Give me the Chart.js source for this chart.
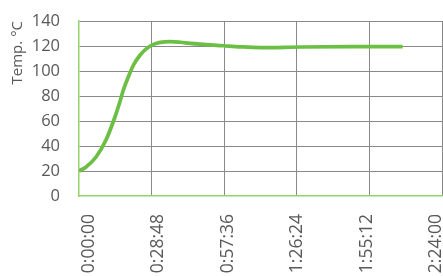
<!DOCTYPE html>
<html>
<head>
<meta charset="utf-8">
<script src="https://cdn.jsdelivr.net/npm/chart.js@4"></script>
<style>
  html, body { margin: 0; padding: 0; background: #fff; }
  #wrap { width: 443px; height: 276px; }
</style>
</head>
<body>
<div id="wrap"><canvas id="chart" width="443" height="276"></canvas></div>
<script>
// elapsed time in seconds and temperature readings
const times = [0, 167, 406, 645, 843, 979, 1058, 1177, 1297, 1456, 1615, 1774, 1933, 2172, 2411, 2650, 3445, 3843, 4321, 5275, 6469, 7703];
const temps = [20, 23.2, 31.2, 45, 62, 76, 85, 95.5, 104.8, 112.8, 118.1, 121.3, 122.9, 123.5, 123, 122.1, 120.2, 119.3, 118.7, 119.2, 119.5, 119.5];

const xTickValues = [0, 1728, 3456, 5184, 6912, 8640];
const xTickLabels = ["0:00:00", "0:28:48", "0:57:36", "1:26:24", "1:55:12", "2:24:00"];
const yTickValues = [0, 20, 40, 60, 80, 100, 120, 140];

const textColor = "#595959";
const gridColor = "#898989";
const axisColor = "#92d36e";
const lineColor = "#6cbf45";

const points = times.map((t, i) => ({ x: t, y: temps[i] }));

new Chart(document.getElementById("chart"), {
  type: "line",
  data: {
    datasets: [
      {
        label: "Temp",
        data: points,
        xAxisID: "x",
        borderColor: lineColor,
        borderWidth: 3.75,
        pointRadius: 0,
        cubicInterpolationMode: "monotone",
        fill: false,
      },
    ],
  },
  options: {
    responsive: false,
    animation: false,
    events: [],
    layout: { padding: { top: 21, right: 1, left: 0, bottom: 0 } },
    plugins: { legend: { display: false }, tooltip: { enabled: false } },
    scales: {
      x: {
        type: "linear",
        min: 0,
        max: 8640,
        afterBuildTicks: (s) => { s.ticks = xTickValues.map((v) => ({ value: v })); },
        afterFit: (s) => { s.height = 0; s.paddingLeft = 0; s.paddingRight = 0; },
        ticks: { display: false },
        grid: {
          drawTicks: false,
          color: (c) => (c.tick && c.tick.value === 0 ? "rgba(0,0,0,0)" : gridColor),
          lineWidth: 1,
        },
        border: { display: true, color: axisColor, width: 1.5 },
      },
      // label axis: Excel places the rotated labels slightly off the gridlines
      xl: {
        type: "linear",
        position: "bottom",
        min: -250,
        max: 8790,
        afterBuildTicks: (s) => { s.ticks = xTickValues.map((v) => ({ value: v })); },
        afterFit: (s) => { s.height = 80; s.paddingLeft = 0; s.paddingRight = 0; },
        grid: { display: false, drawTicks: false },
        border: { display: false },
        ticks: {
          autoSkip: false,
          minRotation: 90,
          maxRotation: 90,
          padding: 18,
          color: textColor,
          font: { family: "'Open Sans'", size: 17.5 },
          callback: (v, i) => xTickLabels[i],
        },
      },
      y: {
        min: 0,
        max: 140,
        afterBuildTicks: (s) => { s.ticks = yTickValues.map((v) => ({ value: v })); },
        afterFit: (s) => { s.width = 79; s.paddingTop = 0; s.paddingBottom = 0; },
        grid: {
          drawTicks: false,
          color: (c) => (c.tick && c.tick.value === 0 ? "rgba(0,0,0,0)" : gridColor),
          lineWidth: 1,
        },
        border: { display: true, color: axisColor, width: 1.5 },
        ticks: {
          padding: 19,
          color: textColor,
          font: { family: "'Open Sans'", size: 16.5 },
        },
        title: {
          display: true,
          text: "Temp. °C",
          align: "end",
          color: textColor,
          font: { family: "'Open Sans'", size: 15 },
          padding: { top: 9, bottom: 0 },
        },
      },
    },
  },
});
</script>
</body>
</html>
